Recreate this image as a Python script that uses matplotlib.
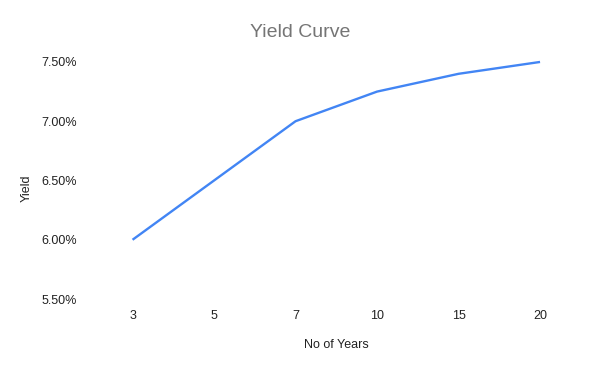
import matplotlib
matplotlib.use('Agg')
import matplotlib.pyplot as plt
from matplotlib.ticker import FuncFormatter

# ## Data
years = ['3', '5', '7', '10', '15', '20']
yields = [6.00, 6.50, 7.00, 7.25, 7.40, 7.50]
y_ticks = [5.5, 6.0, 6.5, 7.0, 7.5]

plt.rcParams['font.family'] = ['Liberation Sans', 'DejaVu Sans']

fig = plt.figure(figsize=(6, 3.71), dpi=100)
ax = fig.add_axes([0.153, 0.194, 0.815, 0.639])

x = range(len(years))
ax.plot(x, yields, color='#4285F4', linewidth=1.7, solid_capstyle='butt', clip_on=False)

ax.set_xlim(-0.5, len(years) - 0.5)
ax.set_ylim(5.5, 7.5)
ax.set_xticks(list(x))
ax.set_xticklabels(years)
ax.set_yticks(y_ticks)
ax.yaxis.set_major_formatter(FuncFormatter(lambda v, p: '{:.2f}%'.format(v)))

for s in ax.spines.values():
    s.set_visible(False)
ax.tick_params(length=0, labelsize=9, colors='#222222')
ax.tick_params(axis='y', pad=11)
ax.tick_params(axis='x', pad=8)

ax.set_xlabel('No of Years', fontsize=9, color='#222222', labelpad=12)
ax.set_ylabel('Yield', fontsize=9, color='#222222')
ax.yaxis.set_label_coords(-0.121, 0.468)
fig.text(0.5, 0.912, 'Yield Curve', ha='center', va='center', fontsize=14, color='#757575')

fig.savefig('out.png', dpi=100)
